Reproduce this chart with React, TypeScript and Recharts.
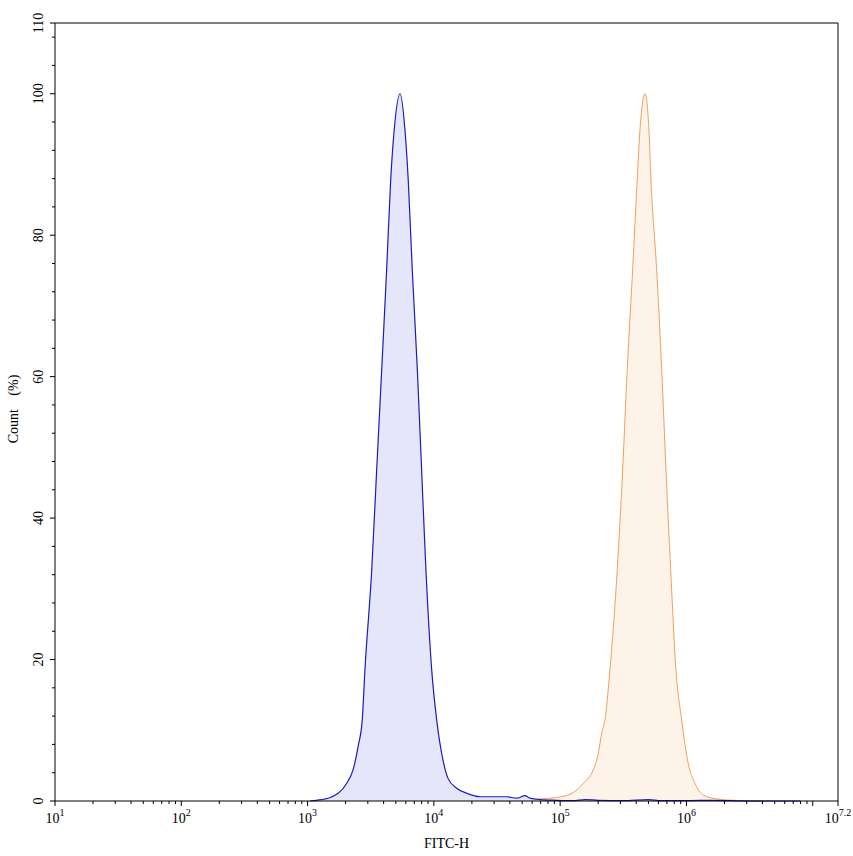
import { ComposedChart, Area, XAxis, YAxis, ReferenceLine } from 'recharts';

// log10(FITC-H) positions and counts (%)
const blueLog = [3.02, 3.07, 3.18, 3.31, 3.36, 3.40, 3.433, 3.454, 3.508, 3.547, 3.587, 3.626, 3.658, 3.686, 3.732, 3.771, 3.797, 3.829, 3.869, 3.903, 3.937, 3.983, 4.022, 4.072, 4.112, 4.18, 4.26, 4.365, 4.497, 4.576, 4.656, 4.721, 4.761, 4.84, 4.972, 5.1, 5.2, 5.3, 5.5, 5.7, 5.8, 6.0, 6.2, 6.5, 6.9];
const blueCount = [0, 0.1, 0.5, 2.5, 4.4, 7.7, 11.5, 18.5, 32.7, 46.8, 61.0, 75.1, 87.8, 94.9, 100, 94.9, 87.8, 75.1, 61.0, 46.8, 32.7, 18.5, 11.5, 5.8, 3.2, 1.8, 1.1, 0.6, 0.6, 0.6, 0.4, 0.75, 0.4, 0.2, 0.1, 0.05, 0.2, 0.1, 0.05, 0.2, 0.05, 0.05, 0.1, 0, 0];

const orangeLog = [4.5, 4.7, 4.84, 4.972, 5.104, 5.183, 5.262, 5.302, 5.329, 5.355, 5.394, 5.452, 5.495, 5.531, 5.574, 5.61, 5.632, 5.672, 5.703, 5.719, 5.764, 5.804, 5.838, 5.875, 5.917, 5.962, 6.014, 6.067, 6.133, 6.239, 6.368, 6.6];
const orangeCount = [0, 0.1, 0.3, 0.5, 1.2, 2.5, 4.4, 6.7, 9.6, 11.5, 18.5, 32.7, 46.8, 61.0, 75.1, 87.8, 94.9, 100, 94.9, 87.8, 75.1, 61.0, 46.8, 32.7, 18.5, 11.5, 5.3, 2.5, 0.85, 0.3, 0.1, 0];

const xMajor = [1, 2, 3, 4, 5, 6, 7, 7.2];
const xLabelled = [1, 2, 3, 4, 5, 6, 7.2];
const yLabelled = [0, 20, 40, 60, 80, 100, 110];

const xMinor: number[] = [];
for (let n = 1; n <= 6; n++) {
  for (let k = 2; k <= 9; k++) xMinor.push(n + Math.log10(k));
}
const xTicks = [...xMajor, ...xMinor].sort((a, b) => a - b);

const yTicks: number[] = [];
for (let v = 0; v <= 108; v += 4) yTicks.push(v);
yTicks.push(110);

const rows = [
  ...blueLog.map((x, i) => ({ x, blue: blueCount[i] })),
  ...orangeLog.map((x, i) => ({ x, orange: orangeCount[i] })),
].sort((a, b) => a.x - b.x);

const FONT = '"Liberation Serif", "Times New Roman", serif';

const XTick = (props: any) => {
  const { x, y, payload } = props;
  const v = payload.value;
  const major = xMajor.includes(v);
  const len = major ? 5 : 3;
  const labelled = xLabelled.includes(v);
  return (
    <g>
      <line x1={x} x2={x} y1={y} y2={y + len} stroke="#000" />
      {labelled && (
        <text x={x} y={y + 22} textAnchor="middle" fontFamily={FONT} fontSize={14} fill="#000">
          10<tspan dy={-7} fontSize={10}>{String(v)}</tspan>
        </text>
      )}
    </g>
  );
};

const YTick = (props: any) => {
  const { x, y, payload } = props;
  const v = payload.value;
  const major = v % 20 === 0 || v === 110;
  const len = major ? 5 : 3;
  const labelled = yLabelled.includes(v);
  return (
    <g>
      <line x1={x} x2={x - len} y1={y} y2={y} stroke="#000" />
      {labelled && (
        <text
          x={x - 12}
          y={y}
          textAnchor="middle"
          transform={`rotate(-90, ${x - 12}, ${y})`}
          fontFamily={FONT}
          fontSize={14}
          fill="#000"
        >
          {v}
        </text>
      )}
    </g>
  );
};

export default function App() {
  return (
    <div style={{ position: 'absolute', left: 0, top: 0 }}>
      <ComposedChart width={853} height={856} data={rows} margin={{ top: 23, right: 15, bottom: 0, left: 0 }}>
        <XAxis
          dataKey="x"
          type="number"
          domain={[1, 7.2]}
          ticks={xTicks}
          interval={0}
          tickSize={0}
          tickMargin={0}
          tickLine={false}
          tick={<XTick />}
          height={55}
          axisLine={{ stroke: '#000' }}
          label={{
            content: (p: any) => (
              <text
                x={p.viewBox.x + p.viewBox.width / 2}
                y={p.viewBox.y + 47}
                textAnchor="middle"
                fontFamily={FONT}
                fontSize={14}
                fill="#000"
              >
                FITC-H
              </text>
            ),
          }}
        />
        <YAxis
          type="number"
          domain={[0, 110]}
          ticks={yTicks}
          interval={0}
          tickSize={0}
          tickMargin={0}
          tickLine={false}
          tick={<YTick />}
          width={55}
          axisLine={{ stroke: '#000' }}
          label={{
            content: () => (
              <text
                x={18}
                y={409}
                textAnchor="middle"
                transform="rotate(-90, 18, 409)"
                fontFamily={FONT}
                fontSize={14}
                fill="#000"
              >
                Count<tspan dx={10}> (%)</tspan>
              </text>
            ),
          }}
        />
        <ReferenceLine y={110} stroke="#000" />
        <ReferenceLine x={7.2} stroke="#000" />
        <Area
          type="monotone"
          dataKey="orange"
          stroke="#f0a060"
          strokeWidth={1}
          fill="#fdf3e9"
          fillOpacity={1}
          connectNulls
          dot={false}
          activeDot={false}
          isAnimationActive={false}
        />
        <Area
          type="monotone"
          dataKey="blue"
          stroke="#1c1cb8"
          strokeWidth={1.2}
          fill="#e6e6fb"
          fillOpacity={1}
          connectNulls
          dot={false}
          activeDot={false}
          isAnimationActive={false}
        />
      </ComposedChart>
    </div>
  );
}
